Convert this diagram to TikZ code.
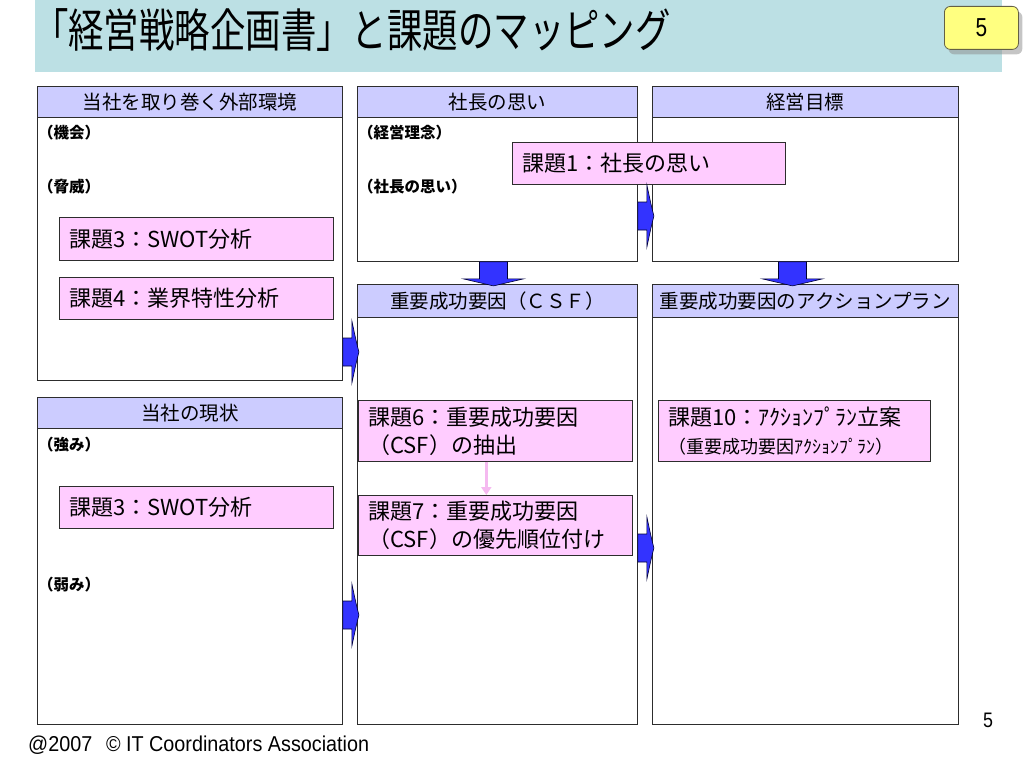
\documentclass[tikz,border=0pt]{standalone}
\usepackage{fontspec}
\setmainfont{Noto Sans CJK JP}
\newfontfamily\arialfont{Liberation Sans}
\usetikzlibrary{calc,shadows,arrows.meta}
\definecolor{bandcol}{RGB}{188,224,228}
\definecolor{headcol}{RGB}{204,204,255}
\definecolor{kadaicol}{RGB}{255,204,255}
\definecolor{arrowcol}{RGB}{51,51,255}
\definecolor{badgecol}{RGB}{255,255,128}
\definecolor{linecol}{RGB}{45,45,45}
\definecolor{pinkline}{RGB}{245,185,240}
\tikzset{
	colbox/.style={draw=linecol, line width=0.9pt, fill=white, anchor=north west, inner sep=0pt},
	headbox/.style={draw=linecol, line width=0.9pt, fill=headcol, anchor=north west, minimum height=31pt, inner sep=0pt, font=\fontsize{19.5}{21}\selectfont},
	kadai/.style={draw=linecol, line width=0.7pt, fill=kadaicol, anchor=north west, text width=#1, inner xsep=10pt, inner ysep=0pt, align=left, font=\fontsize{22}{28}\selectfont},
	lbl/.style={anchor=west, inner sep=0pt, font=\fontsize{15.5}{17}\selectfont\bfseries},
	arrowbody/.style={fill=arrowcol, draw=black!80!blue, line width=0.6pt},
	pinkarr/.style={draw=pinkline, line width=2.5pt, -{Triangle[length=8pt,width=10pt]}},
	rarr/.pic={\filldraw[arrowbody] (0,-14) -- (9,-14) -- (9,-31) .. controls (13,-12) .. (16,0) .. controls (13,12) .. (9,31) -- (9,14) -- (0,14) -- cycle;},
	darr/.pic={\filldraw[arrowbody] (-14,0) -- (14,0) -- (14,17) -- (30,17) -- (0,24) -- (-30,17) -- (-14,17) -- cycle;}
}
\begin{document}
\begin{tikzpicture}[x=1pt,y=-1pt]
	\useasboundingbox (0,0) rectangle (1024,768);
	\fill[bandcol] (35,0) rectangle (1002,72);
	\node[anchor=west, inner sep=0pt, xscale=0.77, font=\fontsize{46}{48}\selectfont] (title) at (33,30) {「経営戦略企画書」と課題のマッピング};
	\node[anchor=north west, draw=black!70!yellow, line width=0.8pt, fill=badgecol, rounded corners=6pt, minimum width=74pt, minimum height=43pt, drop shadow={shadow xshift=4pt, shadow yshift=-5pt, fill=black!45}] (badge) at (944,6) {};
	\node[inner sep=0pt, xscale=0.8, font=\arialfont\fontsize{26}{28}\selectfont] (badgeno) at (badge) {5};
	\node[colbox, minimum width=305pt, minimum height=294pt] (env) at (37,86) {};
	\node[headbox, minimum width=305pt] (envhead) at (37,86) {当社を取り巻く外部環境};
	\node[colbox, minimum width=305pt, minimum height=327pt] (cur) at (37,397) {};
	\node[headbox, minimum width=305pt] (curhead) at (37,397) {当社の現状};
	\node[colbox, minimum width=280pt, minimum height=175pt] (ceo) at (357,86) {};
	\node[headbox, minimum width=280pt] (ceohead) at (357,86) {社長の思い};
	\node[colbox, minimum width=306pt, minimum height=175pt] (goal) at (652,86) {};
	\node[headbox, minimum width=306pt] (goalhead) at (652,86) {経営目標};
	\node[colbox, minimum width=280pt, minimum height=440pt] (csf) at (357,284) {};
	\node[headbox, minimum width=280pt, minimum height=33pt] (csfhead) at (357,284) {重要成功要因（ＣＳＦ）};
	\node[colbox, minimum width=306pt, minimum height=440pt] (plan) at (652,284) {};
	\node[headbox, minimum width=306pt, minimum height=33pt] (planhead) at (652,284) {重要成功要因のアクションプラン};
	\node[lbl] (opp) at (38,133) {（機会）};
	\node[lbl] (thr) at (38,187) {（脅威）};
	\node[lbl] (phil) at (358,133) {（経営理念）};
	\node[lbl] (wish) at (358,187) {（社長の思い）};
	\node[lbl] (str) at (38,445) {（強み）};
	\node[lbl] (weak) at (38,585) {（弱み）};
	\node[kadai=253pt, minimum height=42pt] (k1) at (512,142) {課題1：社長の思い};
	\node[kadai=254pt, minimum height=43pt] (k3a) at (59,217) {課題3：SWOT分析};
	\node[kadai=254pt, minimum height=42pt] (k4) at (59,277) {課題4：業界特性分析};
	\node[kadai=254pt, minimum height=42pt] (k3b) at (59,486) {課題3：SWOT分析};
	\node[kadai=254pt, minimum height=61pt] (k6) at (358,400) {課題6：重要成功要因\\（CSF）の抽出};
	\node[kadai=254pt, minimum height=60pt] (k7) at (358,495) {課題7：重要成功要因\\（CSF）の優先順位付け};
	\node[kadai=252pt, minimum height=61pt] (k10) at (658,400) {課題10：ｱｸｼｮﾝﾌﾟﾗﾝ立案\\{\fontsize{18}{24}\selectfont（重要成功要因ｱｸｼｮﾝﾌﾟﾗﾝ）}};
	\draw[pinkarr] ([xshift=-9pt]k6.south) -- ([xshift=-9pt]k7.north);
	\pic at ($(env.north east)+(0,266)$) {rarr};
	\pic at ($(cur.north east)+(0,218)$) {rarr};
	\pic at ($(ceo.north east)+(0,130)$) {rarr};
	\pic at ($(csf.north east)+(0,264)$) {rarr};
	\pic at ($(ceo.south)+(-4,0)$) {darr};
	\pic at ($(goal.south)+(-13,0)$) {darr};
	\node[anchor=west, inner sep=0pt, xscale=0.92, font=\arialfont\fontsize{21.5}{22}\selectfont] (copy) at (28,745) {@2007\hspace{15pt}© IT Coordinators Association};
	\node[inner sep=0pt, xscale=0.85, font=\arialfont\fontsize{21}{22}\selectfont] (pageno) at (988,720) {5};
\end{tikzpicture}
\end{document}
